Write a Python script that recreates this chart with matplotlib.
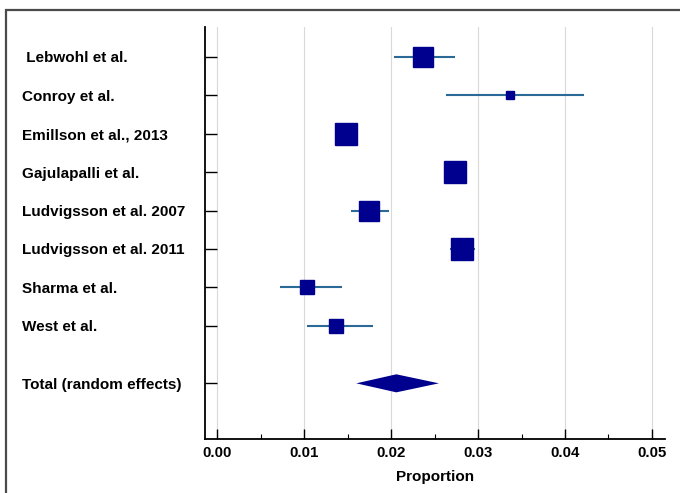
import numpy as np
import matplotlib.pyplot as plt
import matplotlib.transforms as mtransforms
from matplotlib.patches import Rectangle

# study data
studies = [" Lebwohl et al.", "Conroy et al.", "Emillson et al., 2013", "Gajulapalli et al.",
           "Ludvigsson et al. 2007", "Ludvigsson et al. 2011", "Sharma et al.", "West et al."]
est = [0.0237, 0.0337, 0.0148, 0.0274, 0.0175, 0.0281, 0.0103, 0.0137]
ci_low = [0.0203, 0.0263, 0.0136, 0.0262, 0.0154, 0.0268, 0.0072, 0.0103]
ci_high = [0.0274, 0.0422, 0.0162, 0.0286, 0.0198, 0.0296, 0.0144, 0.0179]
weights = [13.7, 2.4, 16.7, 18.3, 15.1, 20.0, 6.4, 7.4]   # % weight

total_label = "Total (random effects)"
total_est = 0.0206
total_low = 0.0160
total_high = 0.0255

xticks = [0.00, 0.01, 0.02, 0.03, 0.04, 0.05]

plt.rcParams['font.family'] = ['Liberation Sans', 'DejaVu Sans']
fig = plt.figure(figsize=(6.8, 4.93), dpi=100)
ax = fig.add_axes([205/680, 1-439/493, 460/680, 412/493])

ypos = np.arange(1, len(studies) + 1)
ytotal = len(studies) + 1.5

for x in xticks:
    ax.axvline(x, color='#d9d9d9', lw=0.8, zorder=0)

ax.hlines(ypos, ci_low, ci_high, color='#2b6a96', lw=1.5, zorder=2)
for y, e, w in zip(ypos, est, weights):
    side = 5.14 * np.sqrt(w) * 0.72
    ax.plot(e, y, marker='s', ms=side, color='#00008f', mec='#00008f', zorder=3)

h = 0.235
ax.fill([total_low, total_est, total_high, total_est],
        [ytotal, ytotal - h, ytotal, ytotal + h], color='#00008f', lw=0, zorder=3)

ax.set_xlim(-0.0014, 0.0515)
ax.set_ylim(10.95, 0.22)
ax.set_xticks(xticks)
ax.set_xticklabels(["%.2f" % x for x in xticks], fontweight='bold', fontsize=10.8)
ax.set_xticks(np.arange(0.005, 0.05, 0.01), minor=True)
ax.tick_params(axis='x', which='major', direction='in', length=7, width=1, pad=5)
ax.tick_params(axis='x', which='minor', direction='in', length=3.5, width=0.8)
ax.set_xlabel("Proportion", fontweight='bold', fontsize=11, labelpad=7)

ax.set_yticks(list(ypos) + [ytotal])
ax.set_yticklabels([])
ax.tick_params(axis='y', direction='in', length=8.5, width=1)

tr = mtransforms.blended_transform_factory(fig.transFigure, ax.transData)
for y, name in zip(list(ypos) + [ytotal], studies + [total_label]):
    ax.text(22/680, y + 0.04, name, transform=tr, ha='left', va='center',
            fontweight='bold', fontsize=11)

for s in ['top', 'right']:
    ax.spines[s].set_visible(False)
for s in ['left', 'bottom']:
    ax.spines[s].set_linewidth(1.3)

fig.patches.append(Rectangle((6/680, -0.1), 1.2, 1.1 - 10/493, transform=fig.transFigure,
                             fill=False, ec='#4a4a4a', lw=1.6))

fig.savefig("out.png", dpi=100)
